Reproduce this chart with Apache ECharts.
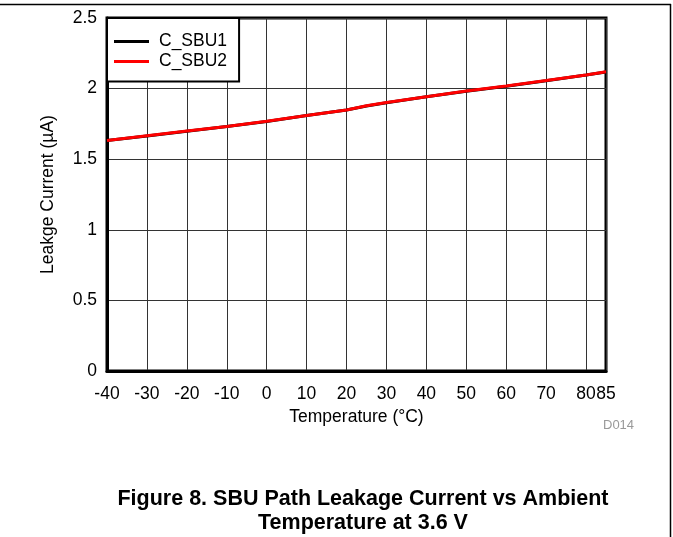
<!DOCTYPE html>
<html>
<head>
<meta charset="utf-8">
<script src="https://cdn.jsdelivr.net/npm/echarts@6/dist/echarts.min.js"></script>
<style>
html,body{margin:0;padding:0;background:#fff;}
#chart{width:673px;height:537px;}
</style>
</head>
<body>
<div id="chart"></div>
<script>
// ---- data ----
const temperatures = [-40, -30, -20, -10, 0, 10, 20, 25, 30, 40, 50, 60, 70, 80, 85];
const cSbu1 = [1.632, 1.665, 1.698, 1.731, 1.767, 1.809, 1.848, 1.877, 1.900, 1.942, 1.982, 2.017, 2.056, 2.096, 2.118];
const cSbu2 = [1.633, 1.666, 1.699, 1.732, 1.768, 1.810, 1.849, 1.878, 1.901, 1.943, 1.983, 2.018, 2.057, 2.097, 2.119];
const seriesNames = ['C_SBU1', 'C_SBU2'];
const xAxisName = 'Temperature (°C)';
const yAxisName = 'Leakge Current (µA)';
const captionText = 'Figure 8. SBU Path Leakage Current vs Ambient\nTemperature at 3.6 V';
const figureId = 'D014';

const font = 'Liberation Sans, Arial, sans-serif';
const labelSize = 17.5;
const pairs = (xs, ys) => xs.map((x, i) => [x, ys[i]]);

const chart = echarts.init(document.getElementById('chart'), null, {renderer: 'canvas'});
chart.setOption({
  animation: false,
  backgroundColor: '#fff',
  textStyle: {fontFamily: font},
  title: [
    {
      text: captionText,
      left: 358, top: 482, textAlign: 'center',
      textStyle: {fontFamily: font, fontWeight: 'bold', fontSize: 21.5, lineHeight: 24, color: '#000'}
    },
    {
      text: figureId,
      left: 598, top: 414,
      textStyle: {fontFamily: font, fontWeight: 'normal', fontSize: 13, color: '#999'}
    }
  ],
  legend: {
    data: seriesNames,
    orient: 'vertical',
    left: 107, top: 18,
    padding: [14.5, 12, 11, 7],
    itemGap: 2,
    itemWidth: 35, itemHeight: 3,
    icon: 'rect',
    backgroundColor: '#fff',
    borderColor: '#000',
    borderWidth: 2,
    borderRadius: 0,
    textStyle: {fontFamily: font, fontSize: labelSize, color: '#000', padding: [0, 0, 0, 5]}
  },
  grid: {
    left: 107, right: 67, top: 18, bottom: 166,
    show: true, borderColor: '#000', borderWidth: 3, backgroundColor: 'transparent'
  },
  xAxis: {
    type: 'value',
    min: -40, max: 85, interval: 10,
    name: xAxisName,
    nameLocation: 'middle', nameGap: 30,
    nameTextStyle: {fontFamily: font, fontSize: labelSize, color: '#000'},
    axisLine: {show: true, onZero: false, lineStyle: {color: '#000', width: 3}},
    axisTick: {show: false},
    axisLabel: {fontFamily: font, fontSize: labelSize, color: '#000', margin: 14, showMaxLabel: true, showMinLabel: true},
    splitLine: {show: true, lineStyle: {color: '#333', width: 1}}
  },
  yAxis: {
    type: 'value',
    min: 0, max: 2.5, interval: 0.5,
    name: yAxisName,
    nameLocation: 'middle', nameGap: 50,
    nameTextStyle: {fontFamily: font, fontSize: labelSize, color: '#000'},
    axisLine: {show: true, onZero: false, lineStyle: {color: '#000', width: 3}},
    axisTick: {show: false},
    axisLabel: {fontFamily: font, fontSize: labelSize, color: '#000', margin: 10},
    splitLine: {show: true, lineStyle: {color: '#333', width: 1}}
  },
  series: [
    {
      name: seriesNames[0], type: 'line', data: pairs(temperatures, cSbu1),
      symbol: 'none', smooth: false,
      lineStyle: {color: '#000', width: 3}, itemStyle: {color: '#000'}
    },
    {
      name: seriesNames[1], type: 'line', data: pairs(temperatures, cSbu2),
      symbol: 'none', smooth: false,
      lineStyle: {color: '#ff0000', width: 3}, itemStyle: {color: '#ff0000'}
    }
  ],
  graphic: [
    {type: 'line', shape: {x1: 0, y1: 4.5, x2: 671, y2: 4.5}, style: {stroke: '#000', lineWidth: 1.5}, silent: true},
    {type: 'line', shape: {x1: 670.5, y1: 4, x2: 670.5, y2: 537}, style: {stroke: '#000', lineWidth: 1.5}, silent: true}
  ]
});
</script>
</body>
</html>
